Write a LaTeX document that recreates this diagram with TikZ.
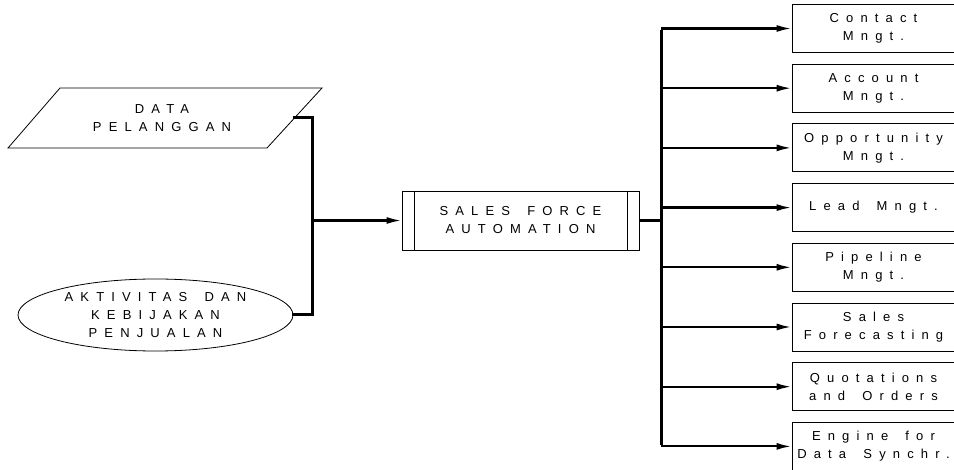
\documentclass[tikz,border=0pt]{standalone}
\usepackage{fontspec}
\setmainfont{Liberation Sans}
\newfontfamily\spaced[LetterSpace=55,WordSpace=1.6]{Liberation Sans}
\usetikzlibrary{arrows.meta,shapes.geometric}

\tikzset{
  label text/.style={font=\spaced\fontsize{13}{18}\selectfont, align=center, inner sep=0pt},
  outline/.style={draw=black, line width=0.8pt},
  modbox/.style={outline, label text, minimum width=163pt, minimum height=48pt},
  bus/.style={draw=black, line width=3pt},
  feed/.style={draw=black, line width=2.2pt, -{Latex[length=15pt,width=7pt]}},
}

\begin{document}
\begin{tikzpicture}[x=1pt,y=-1pt]
\useasboundingbox (0,0) rectangle (954,470);

% input: customer data (parallelogram)
\draw[outline] (60,88) -- (322,88) -- (267,148) -- (8,148) -- cycle;
\node[label text] (data) at (162,118) {DATA\\PELANGGAN};
\coordinate (dataR) at (294.5,118);

% input: sales activities (ellipse)
\node[ellipse, outline, label text, minimum width=275pt, minimum height=72pt]
  (akt) at (155.5,315) {AKTIVITAS DAN\\KEBIJAKAN\\PENJUALAN};

% central process
\node[outline, label text, minimum width=237pt, minimum height=59pt]
  (sfa) at (520.5,220.5) {SALES FORCE\\AUTOMATION};
\draw[outline] ([xshift=13pt]sfa.north west) -- ([xshift=13pt]sfa.south west);
\draw[outline] ([xshift=-12pt]sfa.north east) -- ([xshift=-12pt]sfa.south east);

% merging the two inputs
\coordinate (jl) at (312,220.5);
\draw[bus, line cap=rect] (dataR) -| (jl) |- (akt.east);
\draw[feed] (jl) -- (sfa.west);

% output modules
\foreach \name/\txt [count=\i from 0] in {
  m1/{Contact\\Mngt.},
  m2/{Account\\Mngt.},
  m3/{Opportunity\\Mngt.},
  m4/{Lead Mngt.},
  m5/{Pipeline\\Mngt.},
  m6/{Sales\\Forecasting},
  m7/{Quotations\\and Orders},
  m8/{Engine for\\Data Synchr.}} {
  \node[modbox] (\name) at (873.5, 28.5+59.7*\i) {\txt};
}

% distribution bus
\coordinate (jr) at (661,220.5);
\coordinate (busTop) at (661,28.5);
\coordinate (busBot) at (661,446.4);
\draw[bus] (sfa.east) -- (jr);
\draw[bus] ([yshift=-1.5pt]busTop) -- ([yshift=1.5pt]busBot);
\foreach \name in {m1,m2,m3,m4,m5,m6,m7,m8} {
  \draw[feed] (jr |- \name.west) -- (\name.west);
}
\end{tikzpicture}
\end{document}
